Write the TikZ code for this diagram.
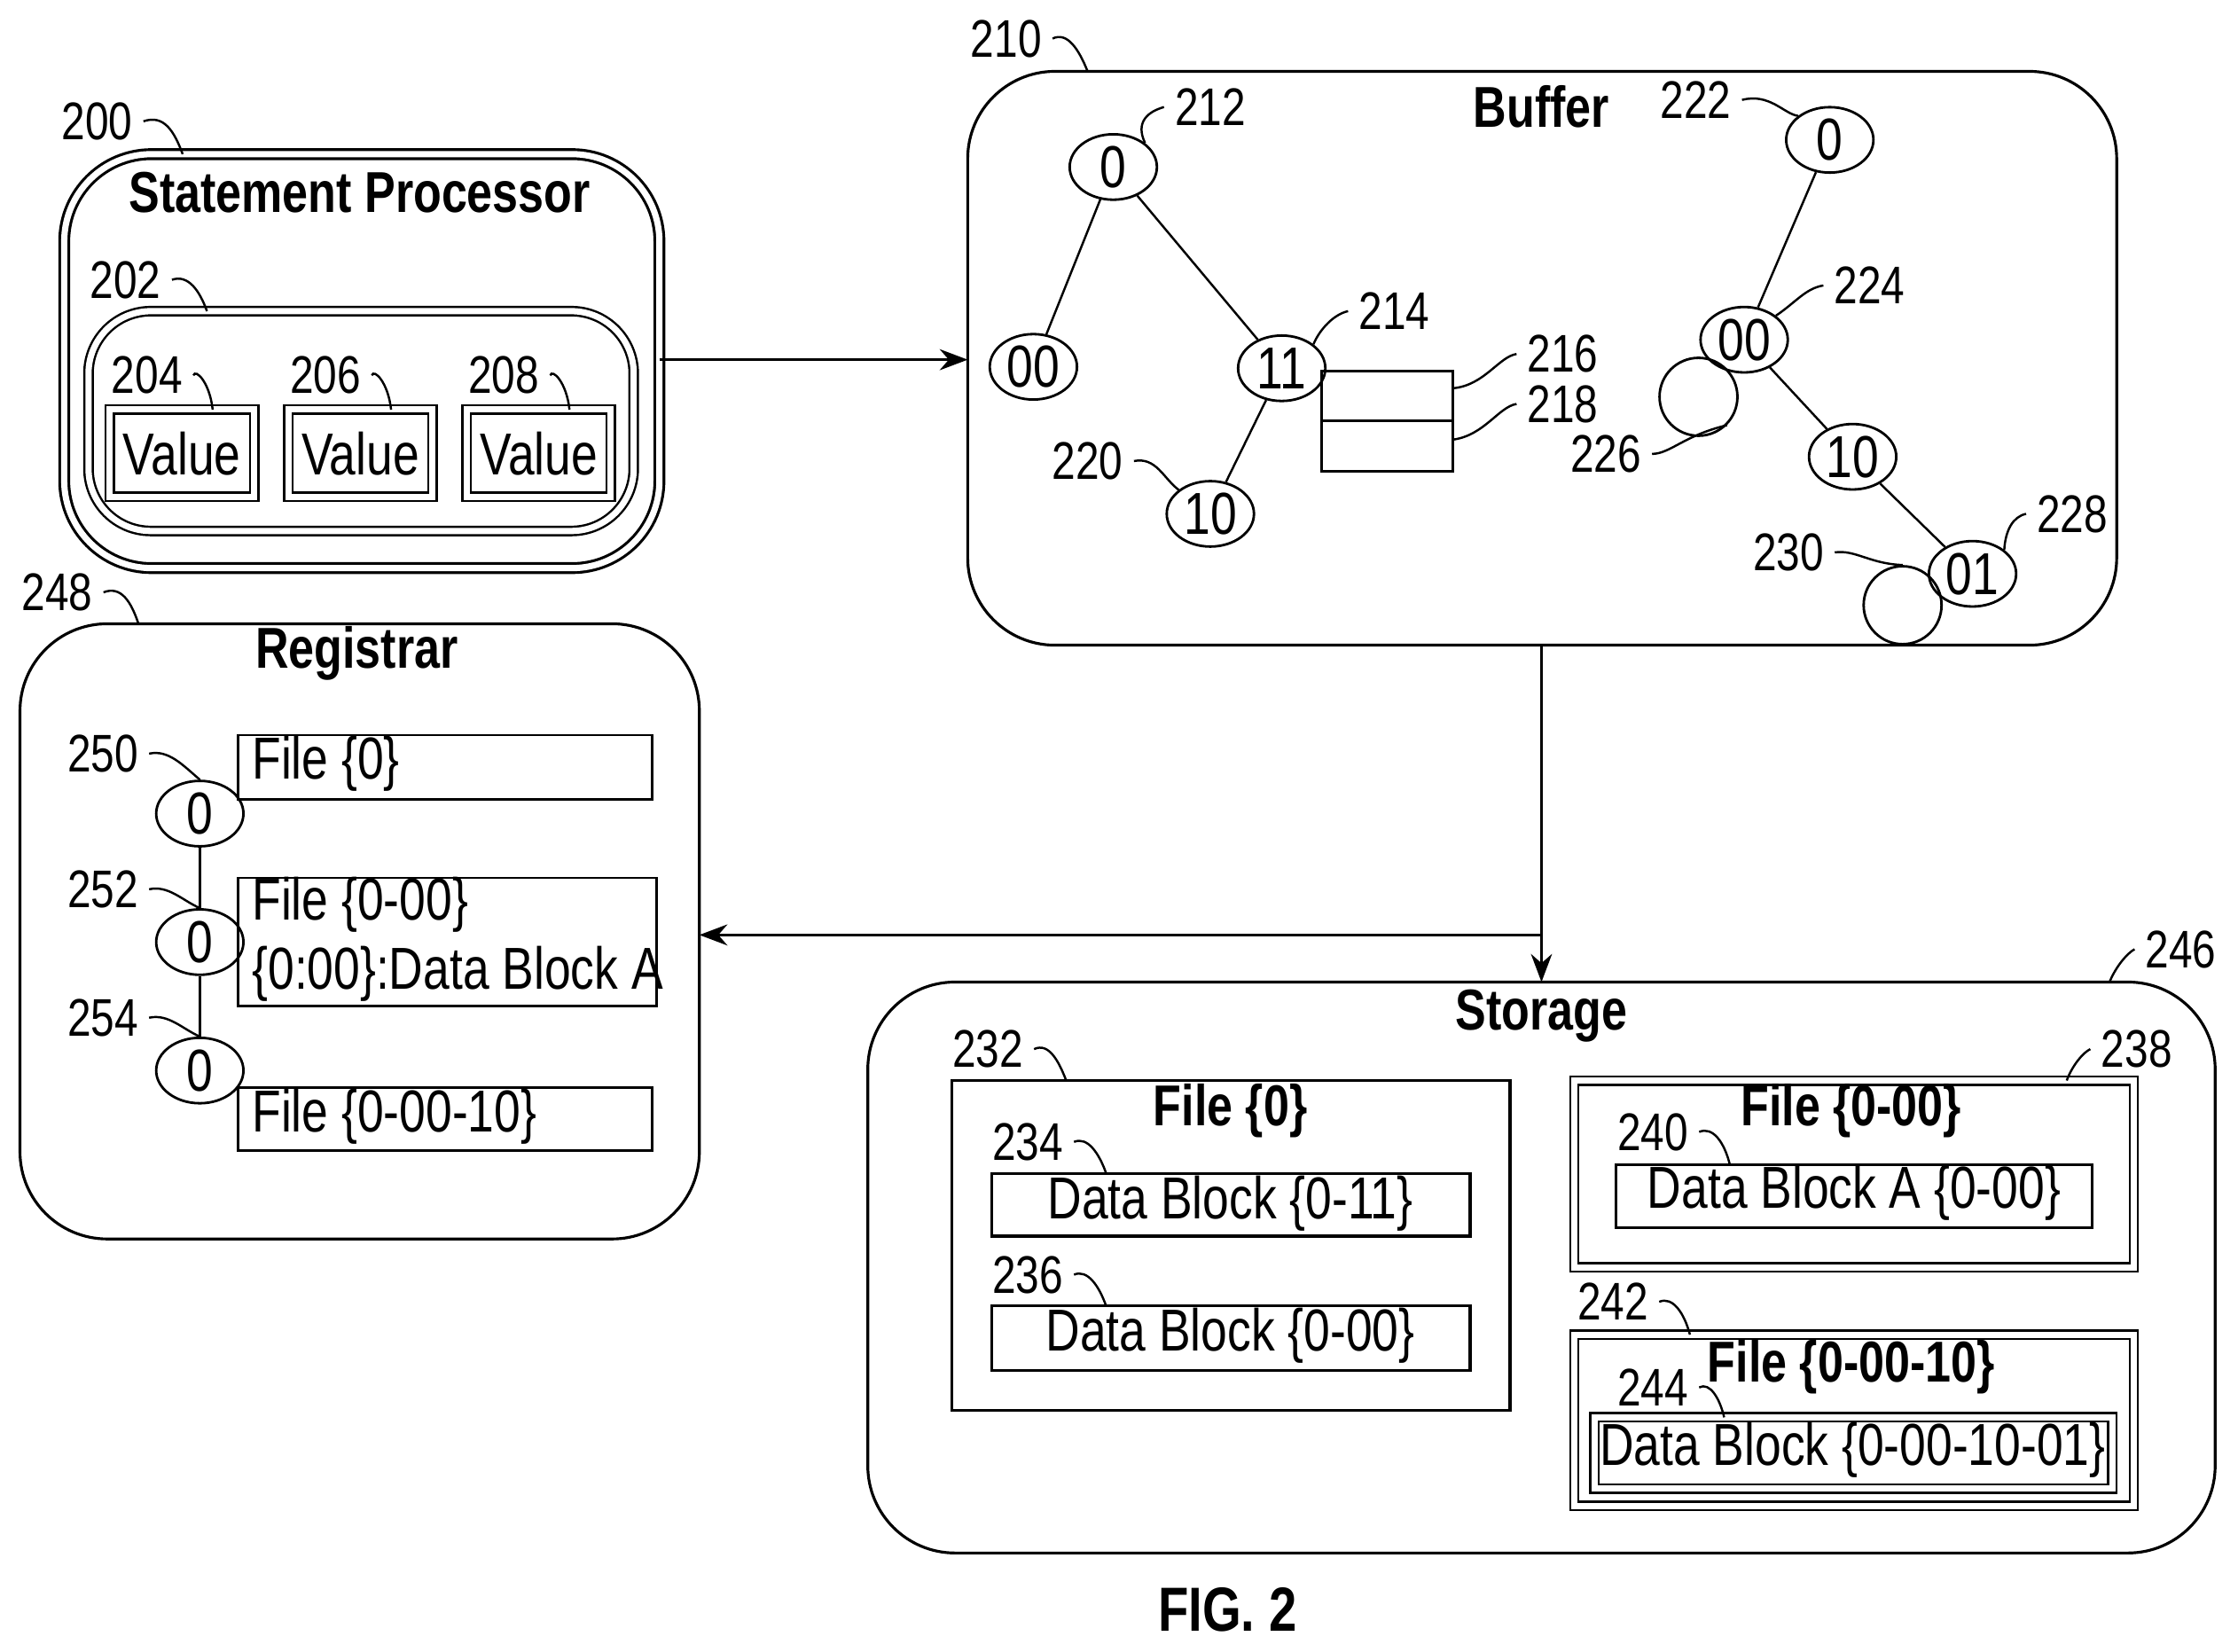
\documentclass[tikz,border=0pt]{standalone}
\usepackage{fontspec}
\setmainfont[FakeStretch=0.8]{Liberation Sans}
\usetikzlibrary{positioning}
\usetikzlibrary{arrows.meta}
\usetikzlibrary{shapes.geometric}
\tikzset{
    box/.style={draw, line width=0.9pt, rounded corners=28pt},
    dbox/.style={draw, double, double distance=2pt, line width=0.7pt},
    tag/.style={font=\fontsize{17}{19}\selectfont},
    title/.style={font=\fontsize{18.5}{20}\selectfont\bfseries},
    txt/.style={font=\fontsize{19}{22}\selectfont},
    knot/.style={draw, ellipse, line width=0.8pt, inner sep=0pt, minimum width=28pt, minimum height=21pt, font=\fontsize{19}{22}\selectfont},
    lead/.style={line width=0.7pt}
}
\begin{document}
\begin{tikzpicture}[x=0.0161cm, y=-0.0161cm]
    \useasboundingbox (0,0) rectangle (1568,1157);

    % statement processor
    \draw[box, double, double distance=2pt] (45,108) rectangle (462,398);
    \node[title] (sptitle) at (252,135) {Statement Processor};
    \draw[dbox, rounded corners=20pt] (62,218) rectangle (444,372);
    \foreach \x/\n in {77/204, 202/206, 327/208} {
        \draw[dbox] (\x,287) rectangle (\x+101,348);
        \node[txt] at (\x+50.5,318) {Value};
        \node[tag] (t\n) at (\x+26,263) {\n};
        \draw[lead] (t\n.east) .. controls (\x+60,258) and (\x+70,268) .. (\x+72,287);
    }
    \node[tag] (t200) at (68,85) {200};
    \draw[lead] (t200.east) .. controls (115,80) and (122,92) .. (128,108);
    \node[tag] (t202) at (88,196) {202};
    \draw[lead] (t202.east) .. controls (132,192) and (140,204) .. (145,218);

    % buffer
    \draw[box] (678,50) rectangle (1483,452);
    \node[title] (buftitle) at (1080,75) {Buffer};
    \node[tag] (t210) at (705,27) {210};
    \draw[lead] (t210.east) .. controls (748,22) and (756,35) .. (762,50);

    \node[knot] (a0) at (780,117) {0};
    \node[knot] (a00) at (724,257) {00};
    \node[knot] (a11) at (898,258) {11};
    \node[knot] (a10) at (848,360) {10};
    \draw[lead] (a0) -- (a00);
    \draw[lead] (a0) -- (a11);
    \draw[lead] (a11) -- (a10);
    \draw[line width=0.8pt] (926,260) rectangle (1018,295);
    \draw[line width=0.8pt] (926,295) rectangle (1018,330);
    \node[tag] (t212) at (848,75) {212};
    \draw[lead] (t212.west) .. controls (805,78) and (795,85) .. (a0.north east);
    \node[tag] (t214) at (977,218) {214};
    \draw[lead] (t214.west) .. controls (935,220) and (925,230) .. (a11.north east);
    \node[tag] (t216) at (1095,248) {216};
    \draw[lead] (t216.west) .. controls (1050,250) and (1040,270) .. (1018,272);
    \node[tag] (t218) at (1095,283) {218};
    \draw[lead] (t218.west) .. controls (1050,285) and (1040,305) .. (1018,308);
    \node[tag] (t220) at (762,323) {220};
    \draw[lead] (t220.east) .. controls (810,320) and (815,335) .. (a10.north west);

    \node[knot] (b0) at (1282,98) {0};
    \node[knot] (b00) at (1222,238) {00};
    \node[knot] (b10) at (1298,320) {10};
    \node[knot] (b01) at (1382,402) {01};
    \node[draw, circle, line width=0.8pt, inner sep=0pt, minimum size=25pt] (b226) at (1190,278) {};
    \node[draw, circle, line width=0.8pt, inner sep=0pt, minimum size=25pt] (b230) at (1333,424) {};
    \draw[lead] (b0) -- (b00);
    \draw[lead] (b00) -- (b10);
    \draw[lead] (b10) -- (b01);
    \node[tag] (t222) at (1188,70) {222};
    \draw[lead] (t222.east) .. controls (1240,65) and (1250,80) .. (b0.north west);
    \node[tag] (t224) at (1310,200) {224};
    \draw[lead] (t224.west) .. controls (1265,202) and (1258,212) .. (b00.north east);
    \node[tag] (t226) at (1125,318) {226};
    \draw[lead] (t226.east) .. controls (1170,318) and (1180,305) .. (b226.south east);
    \node[tag] (t228) at (1452,360) {228};
    \draw[lead] (t228.west) .. controls (1410,362) and (1405,372) .. (b01.north east);
    \node[tag] (t230) at (1253,387) {230};
    \draw[lead] (t230.east) .. controls (1300,385) and (1310,395) .. (b230.north);

    % registrar
    \draw[box] (14,437) rectangle (490,868);
    \node[title] (regtitle) at (250,458) {Registrar};
    \node[tag] (t248) at (40,415) {248};
    \draw[lead] (t248.east) .. controls (85,410) and (92,422) .. (97,437);
    \node[knot] (r0) at (140,570) {0};
    \node[knot] (r1) at (140,660) {0};
    \node[knot] (r2) at (140,750) {0};
    \draw[lead] (r0) -- (r1);
    \draw[lead] (r1) -- (r2);
    \draw[line width=0.8pt] (167,515) rectangle (457,560);
    \node[txt, anchor=west] (f0) at (169,535) {File \{0\}};
    \draw[line width=0.8pt] (167,615) rectangle (460,705);
    \node[txt, anchor=west, align=left] (f00) at (169,658) {File \{0-00\}\\\{0:00\}:Data Block A};
    \draw[line width=0.8pt] (167,762) rectangle (457,806);
    \node[txt, anchor=west] (f0010) at (169,782) {File \{0-00-10\}};
    \foreach \n/\y/\k in {250/528/r0, 252/623/r1, 254/713/r2} {
        \node[tag] (t\n) at (72,\y) {\n};
        \draw[lead] (t\n.east) .. controls (118,\y-3) and (128,\y+8) .. (\k.north);
    }

    % storage
    \draw[box] (608,688) rectangle (1552,1088);
    \node[title] (sttitle) at (1080,712) {Storage};
    \node[tag] (t246) at (1528,665) {246};
    \draw[lead] (t246.west) .. controls (1490,668) and (1482,678) .. (1478,688);

    \draw[line width=0.9pt] (667,757) rectangle (1058,988);
    \node[title] at (862,778) {File \{0\}};
    \node[tag] (t232) at (692,735) {232};
    \draw[lead] (t232.east) .. controls (735,730) and (742,744) .. (747,757);
    \draw[line width=0.9pt] (695,822) rectangle (1030,866);
    \node[txt] at (862,843) {Data Block \{0-11\}};
    \node[tag] (t234) at (720,800) {234};
    \draw[lead] (t234.east) .. controls (762,796) and (770,808) .. (775,822);
    \draw[line width=0.9pt] (695,915) rectangle (1030,960);
    \node[txt] at (862,936) {Data Block \{0-00\}};
    \node[tag] (t236) at (720,893) {236};
    \draw[lead] (t236.east) .. controls (762,889) and (770,901) .. (775,915);

    \draw[dbox] (1103,757) rectangle (1495,888);
    \node[title] at (1297,778) {File \{0-00\}};
    \node[tag] (t238) at (1497,735) {238};
    \draw[lead] (t238.west) .. controls (1460,737) and (1452,746) .. (1448,757);
    \draw[line width=0.9pt] (1132,816) rectangle (1466,860);
    \node[txt] at (1299,836) {Data Block A \{0-00\}};
    \node[tag] (t240) at (1158,793) {240};
    \draw[lead] (t240.east) .. controls (1200,789) and (1208,800) .. (1212,816);

    \draw[dbox] (1103,935) rectangle (1495,1055);
    \node[title] at (1297,958) {File \{0-00-10\}};
    \node[tag] (t242) at (1130,912) {242};
    \draw[lead] (t242.east) .. controls (1172,908) and (1180,920) .. (1184,935);
    \draw[dbox] (1117,993) rectangle (1480,1043);
    \node[txt] at (1298,1016) {Data Block \{0-00-10-01\}};
    \node[tag] (t244) at (1158,972) {244};
    \draw[lead] (t244.east) .. controls (1198,968) and (1205,980) .. (1208,993);

    % connectors
    \coordinate (spout) at (462,252);
    \coordinate (bufin) at (678,252);
    \coordinate (bufout) at (1080,452);
    \coordinate (stin) at (1080,688);
    \coordinate (split) at (1080,655);
    \coordinate (regin) at (490,655);
    \draw[-{Stealth[length=9pt]}, line width=0.8pt] (spout) -- (bufin);
    \draw[-{Stealth[length=9pt]}, line width=0.8pt] (bufout) -- (stin);
    \draw[-{Stealth[length=9pt]}, line width=0.8pt] (split) -- (regin);

    \node[font=\fontsize{20}{22}\selectfont\bfseries] (fig) at (860,1128) {FIG. 2};
\end{tikzpicture}
\end{document}
